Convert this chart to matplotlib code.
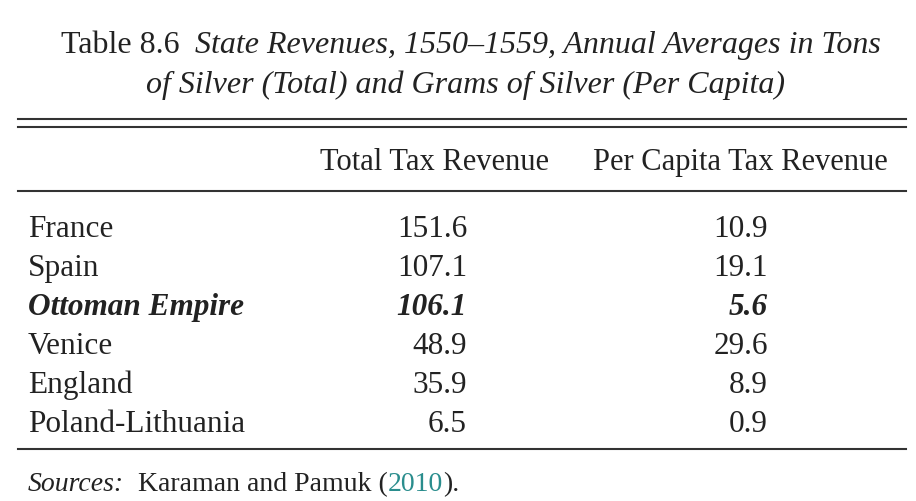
import matplotlib
matplotlib.use('Agg')
import matplotlib.pyplot as plt

# table data
countries = ['France', 'Spain', 'Ottoman Empire', 'Venice', 'England', 'Poland-Lithuania']
total_rev = [151.6, 107.1, 106.1, 48.9, 35.9, 6.5]
per_capita = [10.9, 19.1, 5.6, 29.6, 8.9, 0.9]
highlight = 'Ottoman Empire'
col_heads = ['Total Tax Revenue', 'Per Capita Tax Revenue']

FONT = 'Liberation Serif'
INK = '#222222'

fig = plt.figure(figsize=(9.16, 5.02), dpi=100)
ax = fig.add_axes([0, 0, 1, 1])
ax.set_xlim(0, 916)
ax.set_ylim(502, 0)
ax.axis('off')
fig.canvas.draw()
rend = fig.canvas.get_renderer()


def width_of(t):
    bb = t.get_window_extent(renderer=rend)
    return bb.width


def pieces(parts, x, y, size, center=False):
    # draw text pieces side by side; parts = (text, style, weight, color)
    objs = []
    for s, st, w, c in parts:
        objs.append(ax.text(0, y, s, fontsize=size, family=FONT, style=st,
                            weight=w, color=c, va='baseline', ha='left'))
    widths = [width_of(o) for o in objs]
    if center:
        x = x - sum(widths) / 2
    for o, w in zip(objs, widths):
        o.set_x(x)
        x += w


# title
pieces([('Table 8.6  ', 'normal', 'normal', INK),
        ('State Revenues, 1550\u20131559, Annual Averages in Tons', 'italic', 'normal', INK)],
       471, 53, 23, center=True)
pieces([('of Silver (Total) and Grams of Silver (Per Capita)', 'italic', 'normal', INK)],
       465, 93, 23, center=True)

# rules
for yy in (120, 128, 192, 450):
    ax.plot([18, 906], [yy, yy], color='#333333', lw=1.5)

# column heads
ax.text(434, 170, col_heads[0], fontsize=22, family=FONT, color=INK, ha='center', va='baseline')
ax.text(740, 170, col_heads[1], fontsize=22, family=FONT, color=INK, ha='center', va='baseline')

# body rows
y0, dy = 237, 39
for i, name in enumerate(countries):
    y = y0 + i * dy
    if name == highlight:
        st, w = 'italic', 'bold'
    else:
        st, w = 'normal', 'normal'
    ax.text(28, y, name, fontsize=22.5, family=FONT, style=st, weight=w, color=INK, va='baseline')
    ax.text(467, y, f'{total_rev[i]:.1f}', fontsize=22.5, family=FONT, style=st, weight=w,
            color=INK, ha='right', va='baseline')
    ax.text(768, y, f'{per_capita[i]:.1f}', fontsize=22.5, family=FONT, style=st, weight=w,
            color=INK, ha='right', va='baseline')

# source note
pieces([('Sources:', 'italic', 'normal', INK),
        ('  Karaman and Pamuk (', 'normal', 'normal', INK),
        ('2010', 'normal', 'normal', '#2a8d8d'),
        (').', 'normal', 'normal', INK)],
       28, 491, 20)

fig.savefig('out.png', dpi=100)
